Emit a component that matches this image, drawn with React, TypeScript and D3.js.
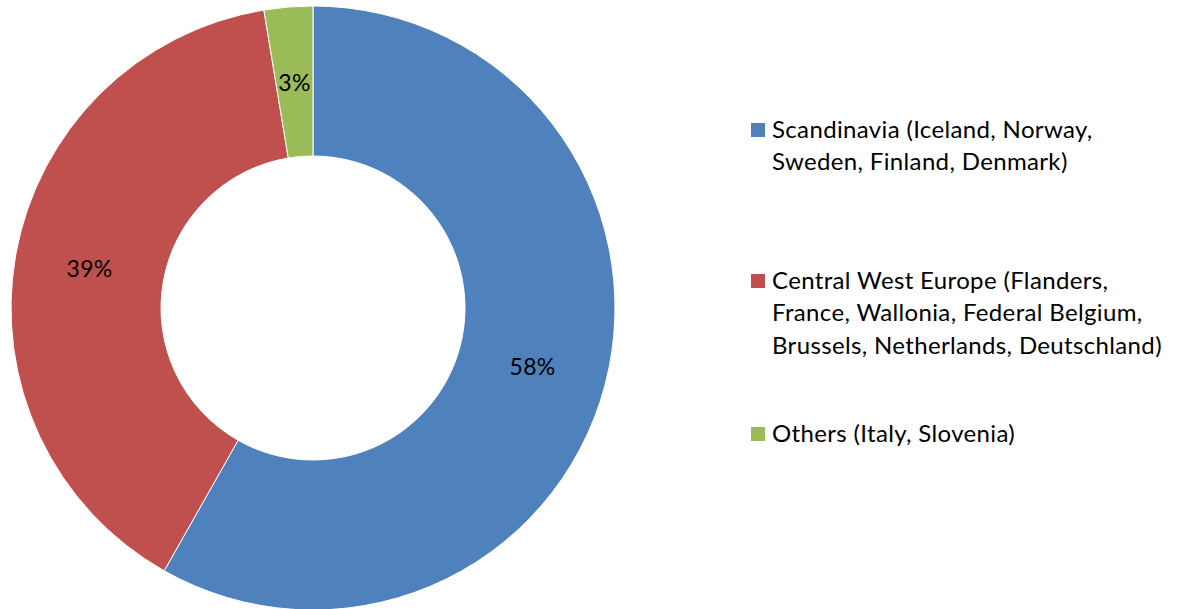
import React from "react";
import * as d3 from "d3";

const categories = ["Scandinavia", "Central West Europe", "Others"];
const values = [58.2, 39.2, 2.6];
const valueLabels = ["58%", "39%", "3%"];
const colors = ["#4F81BD", "#C0504D", "#9BBB59"];
const legendLines = [
  ["Scandinavia (Iceland, Norway,", "Sweden, Finland, Denmark)"],
  ["Central West Europe (Flanders,", "France, Wallonia, Federal Belgium,", "Brussels, Netherlands, Deutschland)"],
  ["Others (Italy, Slovenia)"],
];

const W = 1179;
const H = 609;
const FONT = "Lato, 'Open Sans', sans-serif";

export default function App() {
  const cx = 313;
  const cy = 308;
  const outerR = 302;
  const innerR = 152;
  const pie = d3.pie<number>().sort(null).value((d) => d);
  const arcs = pie(values);
  const arc = d3.arc<d3.PieArcDatum<number>>().innerRadius(innerR).outerRadius(outerR);

  const legendX = 751;
  const textX = 772;
  const lineH = 32.4;
  const firstBaselines = [138, 289, 442];

  return (
    <div style={{ position: "fixed", left: 0, top: 0, width: W, height: H, background: "#fff" }}>
      <svg width={W} height={H} style={{ display: "block" }}>
        <g transform={`translate(${cx},${cy})`}>
          {arcs.map((a, i) => (
            <path key={i} d={arc(a) || ""} fill={colors[i]} stroke="#fff" strokeWidth={1} />
          ))}
          {arcs.map((a, i) => {
            const [x, y] = arc.centroid(a);
            return (
              <text
                key={"l" + i}
                x={x}
                y={y}
                textAnchor="middle"
                dominantBaseline="central"
                fontFamily={FONT}
                fontSize={23}
                letterSpacing={0.3}
                fill="#000"
              >
                {valueLabels[i]}
              </text>
            );
          })}
        </g>
        {categories.map((c, i) => (
          <g key={c}>
            <rect x={legendX} y={firstBaselines[i] - 15} width={14} height={14} fill={colors[i]} />
            {legendLines[i].map((ln, j) => (
              <text
                key={j}
                x={textX}
                y={firstBaselines[i] + j * lineH}
                fontFamily={FONT}
                fontSize={24}
                letterSpacing={0.35}
                fill="#000"
              >
                {ln}
              </text>
            ))}
          </g>
        ))}
      </svg>
    </div>
  );
}
